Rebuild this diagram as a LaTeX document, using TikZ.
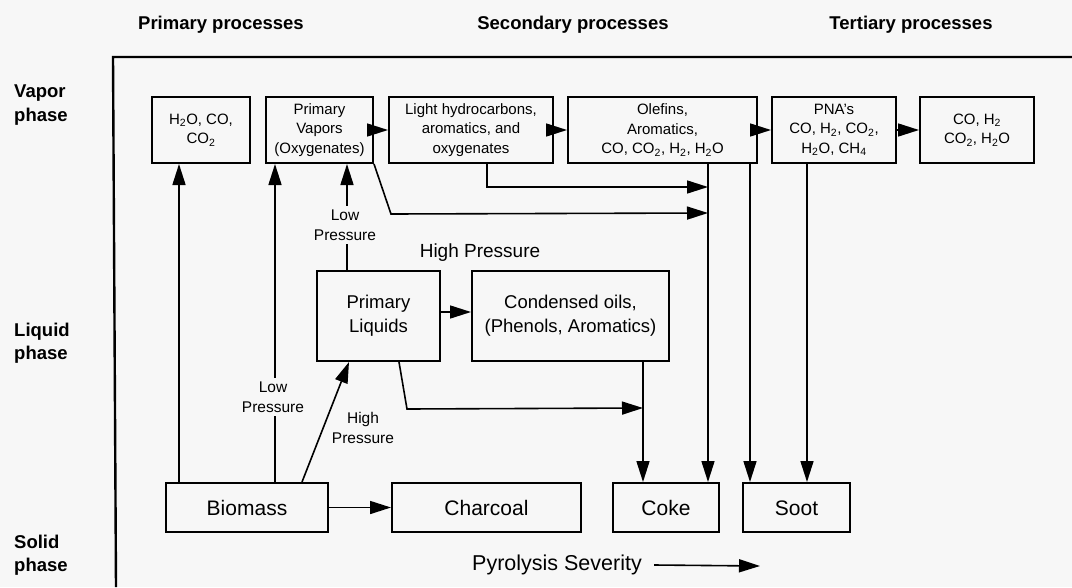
\documentclass[tikz,border=0pt]{standalone}
\usepackage{fontspec}
\setmainfont{Liberation Sans}
\usetikzlibrary{arrows.meta}
\definecolor{paper}{rgb}{0.97,0.97,0.97}

\begin{document}
\begin{tikzpicture}[x=1pt, y=-1pt,
  vapbox/.style={draw, line width=2pt, minimum height=66pt, inner sep=0pt, align=center, font=\fontsize{15}{19.5}\selectfont},
  liqbox/.style={draw, line width=2pt, minimum height=90pt, inner sep=0pt, align=center, font=\fontsize{18.5}{24}\selectfont},
  solbox/.style={draw, line width=2pt, minimum height=49pt, inner sep=0pt, text height=15pt, text depth=0pt, font=\fontsize{21}{25}\selectfont},
  flow/.style={line width=1.6pt},
  arr/.style={flow, -{Triangle[length=21pt,width=13pt]}},
  lbl/.style={align=center, inner xsep=1pt, inner ysep=4pt, font=\fontsize{15.5}{19.5}\selectfont},
  head/.style={align=left, inner sep=0pt, font=\fontsize{18.5}{23.5}\selectfont\bfseries}]
	\fill[paper] (0,0) rectangle (1072,587);
	\useasboundingbox (0,0) rectangle (1072,587);

	% headings and phases
	\node[head] (hprim) at (221,25) {Primary processes};
	\node[head] (hsec) at (573,25) {Secondary processes};
	\node[head] (hter) at (911,25) {Tertiary processes};
	\node[head, anchor=west] (vap) at (14,105) {Vapor\\phase};
	\node[head, anchor=west] (liq) at (14,343) {Liquid\\phase};
	\node[head, anchor=west] (sol) at (14,555) {Solid\\phase};
	\draw[line width=2.4pt] (1072,57) -- (113,57) -- (116,587);

	% vapor phase
	\node[vapbox, minimum width=98pt] (w1) at (201,130) {H\textsubscript{2}O, CO,\\CO\textsubscript{2}};
	\node[vapbox, minimum width=107pt] (w2) at (319.5,130) {Primary\\Vapors\\(Oxygenates)};
	\node[vapbox, minimum width=164pt] (w3) at (471,130) {Light hydrocarbons,\\aromatics, and\\oxygenates};
	\node[vapbox, minimum width=189pt] (w4) at (662.5,130) {Olefins,\\Aromatics,\\CO, CO\textsubscript{2}, H\textsubscript{2}, H\textsubscript{2}O};
	\node[vapbox, minimum width=124pt] (w5) at (834,130) {PNA's\\CO, H\textsubscript{2}, CO\textsubscript{2},\\H\textsubscript{2}O, CH\textsubscript{4}};
	\node[vapbox, minimum width=114pt] (w6) at (977,130) {CO, H\textsubscript{2}\\CO\textsubscript{2}, H\textsubscript{2}O};

	% liquid phase
	\node[liqbox, minimum width=123pt] (pl) at (378.5,316) {Primary\\Liquids};
	\node[liqbox, minimum width=197pt] (co) at (570.5,316) {Condensed oils,\\(Phenols, Aromatics)};
	\node[font=\fontsize{19}{23}\selectfont] (hp) at (480,253) {High Pressure};

	% solid phase
	\node[solbox, minimum width=162pt] (bio) at (247,507.5) {Biomass};
	\node[solbox, minimum width=189pt] (char) at (486.5,507.5) {Charcoal};
	\node[solbox, minimum width=106pt] (coke) at (666,507.5) {Coke};
	\node[solbox, minimum width=107pt] (soot) at (796.5,507.5) {Soot};
	\node[font=\fontsize{21.5}{25}\selectfont, inner sep=0pt] (sev) at (557,565) {Pyrolysis Severity};
	\coordinate (sevend) at (760,566);

	% labels on the paths
	\node[lbl] (lp1) at (273,397) {Low\\Pressure};
	\node[lbl] (lp2) at (345,225) {Low\\Pressure};
	\node[lbl] (hp2) at (363,428) {High\\Pressure};

	% x of the long verticals and the joins
	\coordinate (c1) at (179,0);
	\coordinate (c2) at (275,0);
	\coordinate (c3) at (347,0);
	\coordinate (c4) at (643,0);
	\coordinate (c5) at (750,0);
	\coordinate (c6) at (807,0);
	\coordinate (j1) at (708,187);
	\coordinate (j2) at (708,213);
	\coordinate (j3) at (643,408);

	% connectors
	\draw[arr] (w2) -- (w3);
	\draw[arr] (w3) -- (w4);
	\draw[arr] (w4) -- (w5);
	\draw[arr] (w5) -- (w6);
	\draw[arr] ([yshift=4pt]pl.east) -- ([yshift=4pt]co.west);
	\draw[arr] (bio) -- (char);
	\draw[arr] (bio.north -| c1) -- (w1.south -| c1);
	\draw[flow] (bio.north -| c2) -- (lp1.south -| c2);
	\draw[arr] (lp1.north -| c2) -- (w2.south -| c2);
	\draw[flow] (pl.north -| c3) -- (lp2.south -| c3);
	\draw[arr] (lp2.north -| c3) -- (w2.south -| c3);
	\draw[arr] ([xshift=55pt]bio.north) -- ([xshift=-29.5pt]pl.south);
	\draw[arr] (w2.south east) -- ++(17,50) -- (j2);
	\draw[arr] ([xshift=16pt]w3.south) |- (j1);
	\draw[arr] ([xshift=20.5pt]pl.south) -- ++(8,47) -- (j3);
	\draw[arr] (co.south -| c4) -- (coke.north -| c4);
	\draw[arr] (w4.south -| j1) -- (coke.north -| j1);
	\draw[arr] (w4.south -| c5) -- (soot.north -| c5);
	\draw[arr] (w5.south -| c6) -- (soot.north -| c6);
	\draw[arr] ([xshift=12pt]sev.east) -- (sevend);
\end{tikzpicture}
\end{document}
